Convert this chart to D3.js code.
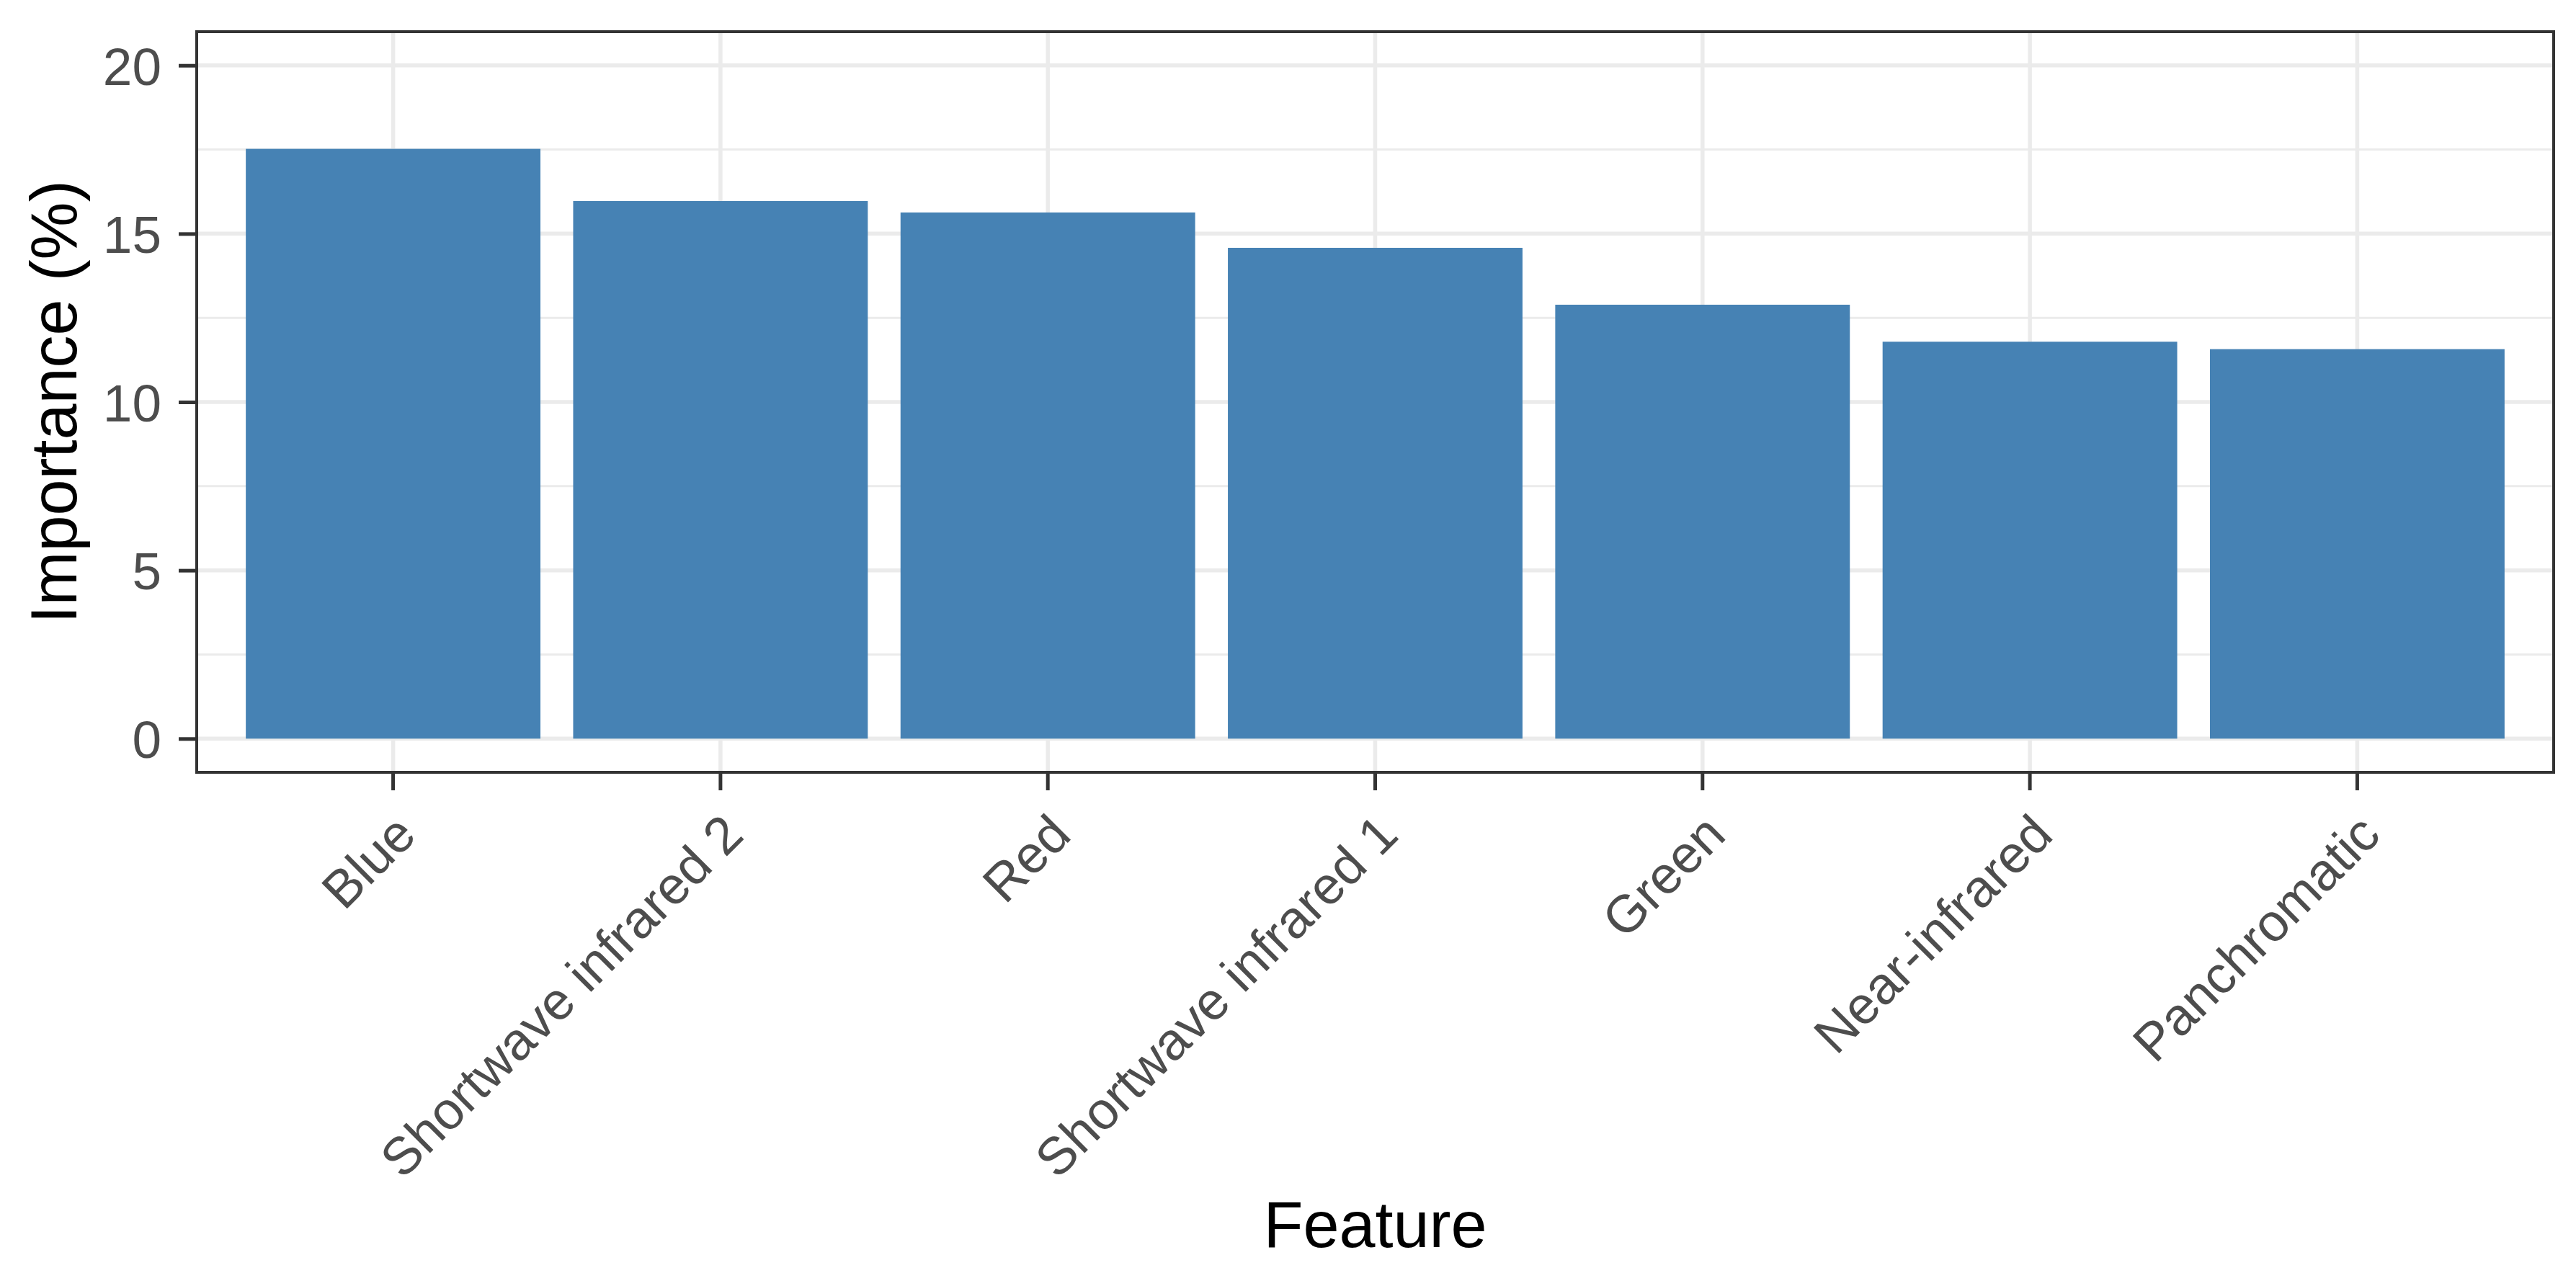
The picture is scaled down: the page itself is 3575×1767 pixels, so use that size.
<!DOCTYPE html>
<html>
<head>
<meta charset="utf-8">
<script src="https://cdn.jsdelivr.net/npm/d3@7"></script>
<style>
  body { margin: 0; background: #fff; }
  text { font-family: "Liberation Sans", Arial, Helvetica, sans-serif; }
</style>
</head>
<body>
<svg id="chart" width="3575" height="1767"></svg>
<script>
// data
var features = ["Blue", "Shortwave infrared 2", "Red", "Shortwave infrared 1", "Green", "Near-infrared", "Panchromatic"];
var importance = [17.52, 15.97, 15.63, 14.58, 12.89, 11.79, 11.57];
var yTicks = [0, 5, 10, 15, 20];
var yMinor = [2.5, 7.5, 12.5, 17.5];

var svg = d3.select("#chart");

// panel box
var pLeft = 273, pRight = 3544, pTop = 44, pBottom = 1072;

var x = d3.scaleBand()
    .domain(features)
    .range([pLeft, pRight])
    .paddingInner(0.1)
    .paddingOuter(0.15);

var y = d3.scaleLinear()
    .domain([-1, 21])
    .range([pBottom, pTop]);

var rows = features.map(function(d, i) { return { name: d, value: importance[i] }; });

// white panel background
svg.append("rect")
    .attr("x", pLeft).attr("y", pTop)
    .attr("width", pRight - pLeft).attr("height", pBottom - pTop)
    .attr("fill", "#fff");

// grid lines
var grid = svg.append("g");
grid.selectAll(".minor")
    .data(yMinor)
    .enter().append("line")
    .attr("x1", pLeft).attr("x2", pRight)
    .attr("y1", function(d) { return y(d); })
    .attr("y2", function(d) { return y(d); })
    .attr("stroke", "#ebebeb")
    .attr("stroke-width", 3);
grid.selectAll(".major")
    .data(yTicks)
    .enter().append("line")
    .attr("x1", pLeft).attr("x2", pRight)
    .attr("y1", function(d) { return y(d); })
    .attr("y2", function(d) { return y(d); })
    .attr("stroke", "#ebebeb")
    .attr("stroke-width", 5.5);
grid.selectAll(".vert")
    .data(features)
    .enter().append("line")
    .attr("x1", function(d) { return x(d) + x.bandwidth() / 2; })
    .attr("x2", function(d) { return x(d) + x.bandwidth() / 2; })
    .attr("y1", pTop).attr("y2", pBottom)
    .attr("stroke", "#ebebeb")
    .attr("stroke-width", 5.5);

// bars
svg.selectAll(".bar")
    .data(rows)
    .enter().append("rect")
    .attr("class", "bar")
    .attr("x", function(d) { return x(d.name); })
    .attr("y", function(d) { return y(d.value); })
    .attr("width", x.bandwidth())
    .attr("height", function(d) { return y(0) - y(d.value); })
    .attr("fill", "steelblue");

// panel border
svg.append("rect")
    .attr("x", pLeft).attr("y", pTop)
    .attr("width", pRight - pLeft).attr("height", pBottom - pTop)
    .attr("fill", "none")
    .attr("stroke", "#333333")
    .attr("stroke-width", 4);

// y axis
var yAxis = svg.append("g")
    .attr("transform", "translate(" + pLeft + ",0)")
    .call(d3.axisLeft(y).tickValues(yTicks).tickSize(25).tickPadding(24));
yAxis.select(".domain").remove();
yAxis.selectAll(".tick line").attr("stroke", "#333333").attr("stroke-width", 5);
yAxis.selectAll(".tick text")
    .attr("fill", "#4d4d4d")
    .attr("font-size", "73px")
    .attr("dy", "0.36em");

// x axis
var xAxis = svg.append("g")
    .attr("transform", "translate(0," + pBottom + ")")
    .call(d3.axisBottom(x).tickSize(25));
xAxis.select(".domain").remove();
xAxis.selectAll(".tick line").attr("stroke", "#333333").attr("stroke-width", 5);
xAxis.selectAll(".tick text")
    .attr("y", null)
    .attr("dy", "0.72em")
    .attr("fill", "#4d4d4d")
    .attr("font-size", "73px")
    .attr("text-anchor", "end")
    .attr("transform", "translate(-2,53) rotate(-45)");

// axis titles
svg.append("text")
    .attr("x", (pLeft + pRight) / 2)
    .attr("y", 1731)
    .attr("text-anchor", "middle")
    .attr("font-size", "90px")
    .attr("fill", "#000")
    .text("Feature");

svg.append("text")
    .attr("transform", "translate(106," + (pTop + pBottom) / 2 + ") rotate(-90)")
    .attr("text-anchor", "middle")
    .attr("font-size", "90px")
    .attr("fill", "#000")
    .text("Importance (%)");
</script>
</body>
</html>
